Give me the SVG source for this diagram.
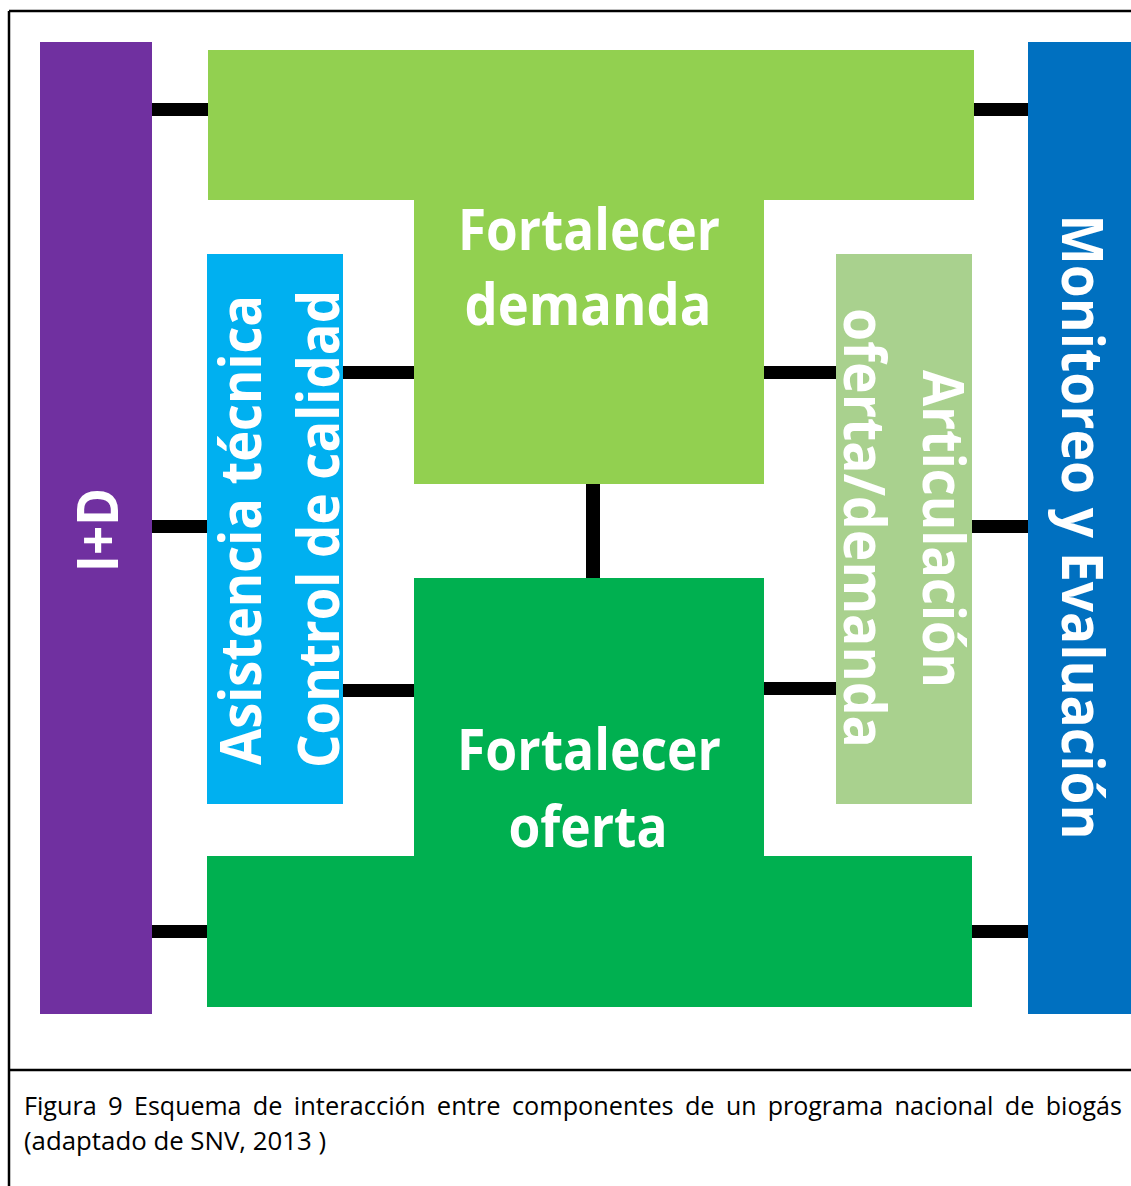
<svg xmlns="http://www.w3.org/2000/svg" width="1131" height="1186" viewBox="0 0 1131 1186">
<style>
.lbl{font-family:"Open Sans","Liberation Sans",sans-serif;font-weight:bold;font-size:57px;fill:#ffffff;text-anchor:middle}
.cap{font-family:"Open Sans","Liberation Sans",sans-serif;font-size:26px;fill:#000000}
.con{fill:#000000}
.frame{stroke:#000000;stroke-width:2.5;fill:none}
</style>
<rect x="0" y="0" width="1131" height="1186" fill="#ffffff"/>
<g id="frame">
<line class="frame" x1="9" y1="11" x2="1140" y2="11"/>
<line class="frame" x1="9" y1="11" x2="9" y2="1190"/>
<line class="frame" x1="9" y1="1070" x2="1140" y2="1070"/>
</g>
<g id="connectors">
<rect class="con" x="150" y="103" width="60" height="13"/>
<rect class="con" x="150" y="520" width="59" height="13"/>
<rect class="con" x="150" y="925" width="59" height="13"/>
<rect class="con" x="341" y="366" width="75" height="13"/>
<rect class="con" x="341" y="684" width="75" height="13"/>
<rect class="con" x="586" y="482" width="14" height="98"/>
<rect class="con" x="762" y="366" width="76" height="13"/>
<rect class="con" x="762" y="682" width="76" height="13"/>
<rect class="con" x="972" y="103" width="58" height="13"/>
<rect class="con" x="970" y="520" width="60" height="13"/>
<rect class="con" x="970" y="925" width="60" height="13"/>
</g>
<g id="node-id">
<rect x="40" y="42" width="112" height="972" fill="#7030a0"/>
<text class="lbl" transform="translate(118,530) rotate(-90)" textLength="84" lengthAdjust="spacingAndGlyphs">I+D</text>
</g>
<g id="node-monitoreo">
<rect x="1028" y="42" width="110" height="972" fill="#0070c0"/>
<text class="lbl" transform="translate(1062,527) rotate(90)" textLength="625" lengthAdjust="spacingAndGlyphs">Monitoreo y Evaluación</text>
</g>
<g id="node-demanda">
<path d="M208,50 H974 V200 H764 V484 H414 V200 H208 Z" fill="#92d050"/>
<text class="lbl" x="589" y="250" textLength="262" lengthAdjust="spacingAndGlyphs">Fortalecer</text>
<text class="lbl" x="588" y="325" textLength="247" lengthAdjust="spacingAndGlyphs">demanda</text>
</g>
<g id="node-oferta">
<path d="M414,578 H764 V856 H972 V1007 H207 V856 H414 Z" fill="#00b050"/>
<text class="lbl" x="589" y="770" textLength="264" lengthAdjust="spacingAndGlyphs">Fortalecer</text>
<text class="lbl" x="588" y="847" textLength="159" lengthAdjust="spacingAndGlyphs">oferta</text>
</g>
<g id="node-asistencia">
<rect x="207" y="254" width="136" height="550" fill="#00b0f0"/>
<text class="lbl" transform="translate(261,530) rotate(-90)" textLength="470" lengthAdjust="spacingAndGlyphs">Asistencia técnica</text>
<text class="lbl" transform="translate(339,529) rotate(-90)" textLength="478" lengthAdjust="spacingAndGlyphs">Control de calidad</text>
</g>
<g id="node-articulacion">
<rect x="836" y="254" width="136" height="550" fill="#a9d18e"/>
<text class="lbl" transform="translate(923,529) rotate(90)" textLength="318" lengthAdjust="spacingAndGlyphs">Articulación</text>
<text class="lbl" transform="translate(844,528) rotate(90)" textLength="440" lengthAdjust="spacingAndGlyphs">oferta/demanda</text>
</g>
<g id="caption">
<text class="cap" x="24" y="1115" textLength="72.8" lengthAdjust="spacingAndGlyphs">Figura</text>
<text class="cap" x="108.1" y="1115" textLength="14.7" lengthAdjust="spacingAndGlyphs">9</text>
<text class="cap" x="134.1" y="1115" textLength="107.4" lengthAdjust="spacingAndGlyphs">Esquema</text>
<text class="cap" x="252.8" y="1115" textLength="29.7" lengthAdjust="spacingAndGlyphs">de</text>
<text class="cap" x="293.8" y="1115" textLength="131.7" lengthAdjust="spacingAndGlyphs">interacción</text>
<text class="cap" x="436.8" y="1115" textLength="63.9" lengthAdjust="spacingAndGlyphs">entre</text>
<text class="cap" x="512" y="1115" textLength="161.6" lengthAdjust="spacingAndGlyphs">componentes</text>
<text class="cap" x="684.9" y="1115" textLength="29.7" lengthAdjust="spacingAndGlyphs">de</text>
<text class="cap" x="725.9" y="1115" textLength="30.5" lengthAdjust="spacingAndGlyphs">un</text>
<text class="cap" x="767.7" y="1115" textLength="115.4" lengthAdjust="spacingAndGlyphs">programa</text>
<text class="cap" x="894.4" y="1115" textLength="99.1" lengthAdjust="spacingAndGlyphs">nacional</text>
<text class="cap" x="1004.8" y="1115" textLength="29.7" lengthAdjust="spacingAndGlyphs">de</text>
<text class="cap" x="1045.8" y="1115" textLength="76" lengthAdjust="spacingAndGlyphs">biogás</text>
<text class="cap" x="24" y="1150" textLength="302" lengthAdjust="spacingAndGlyphs">(adaptado de SNV, 2013 )</text>
</g>
</svg>
